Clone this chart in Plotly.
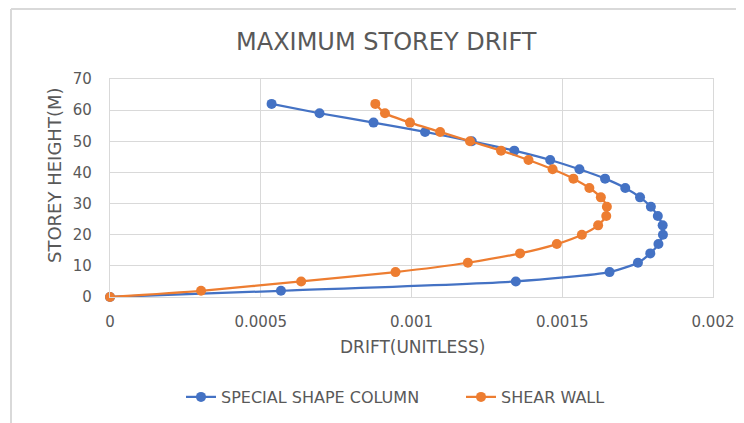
import plotly.graph_objects as go

# Storey heights (m)
heights = [0, 2, 5, 8, 11, 14, 17, 20, 23, 26, 29, 32, 35, 38, 41, 44, 47, 50, 53, 56, 59, 62]

# Drift values (unitless)
special_shape_column = [0, 0.000567, 0.001346, 0.001657, 0.001751, 0.001792, 0.001819, 0.001834,
                        0.001833, 0.001817, 0.001794, 0.001758, 0.001709, 0.001642, 0.001557,
                        0.00146, 0.001341, 0.0012, 0.001045, 0.000874, 0.000695, 0.000536]
shear_wall = [0, 0.000302, 0.000634, 0.000947, 0.001187, 0.00136, 0.001482, 0.001565,
              0.001619, 0.001646, 0.001648, 0.001628, 0.00159, 0.001537, 0.001468,
              0.001388, 0.001297, 0.001194, 0.001095, 0.000995, 0.000912, 0.00088]

x_ticks = [0, 0.0005, 0.001, 0.0015, 0.002]
x_tick_labels = ["0", "0.0005", "0.001", "0.0015", "0.002"]
y_ticks = [0, 10, 20, 30, 40, 50, 60, 70]

series_names = ["SPECIAL SHAPE COLUMN", "SHEAR WALL"]
colors = ["#4472C4", "#ED7D31"]

FONT = "DejaVu Sans"
GRAY = "#595959"
GRID = "#D9D9D9"

OFF = 8  # browser body margin
W, H = 744 - OFF, 423 - OFF
L, T = 110 - OFF, 79 - OFF
R = W - (713 - OFF)
B = H - (297 - OFF)
pw, ph = W - L - R, H - T - B


def px_x(x):
    return (x - OFF - L) / pw


def px_y(y):
    return (H - B - (y - OFF)) / ph


fig = go.Figure()
for i, (name, vals, col) in enumerate(zip(series_names, [special_shape_column, shear_wall], colors)):
    fig.add_trace(go.Scatter(
        x=vals, y=heights, name=name, mode="lines+markers",
        line=dict(color=col, width=2.25, shape="spline", smoothing=0.6),
        marker=dict(color=col, size=10),
        cliponaxis=False,
        legend="legend" if i == 0 else "legend2",
    ))

leg_common = dict(orientation="h", yanchor="middle", xanchor="left", itemwidth=30,
                  font=dict(size=16, color=GRAY, family=FONT), bgcolor="rgba(0,0,0,0)")

fig.update_layout(
    width=W, height=H,
    margin=dict(l=L, r=R, t=T, b=B, autoexpand=False),
    paper_bgcolor="white", plot_bgcolor="white",
    font=dict(family=FONT, color=GRAY, size=15),
    showlegend=True,
    legend=dict(x=px_x(181), y=px_y(397), **leg_common),
    legend2=dict(x=px_x(461), y=px_y(397), **leg_common),
    xaxis=dict(range=[0, 0.002], tickvals=x_ticks, ticktext=x_tick_labels,
               showgrid=True, gridcolor=GRID, gridwidth=1.3,
               zeroline=False, showline=True, linecolor=GRID, linewidth=1.3, mirror=True,
               ticks="", tickfont=dict(size=15, color=GRAY), ticklabelstandoff=11),
    yaxis=dict(range=[0, 70], tickvals=y_ticks,
               showgrid=True, gridcolor=GRID, gridwidth=1.3,
               zeroline=False, showline=True, linecolor=GRID, linewidth=1.3, mirror=True,
               ticks="", tickfont=dict(size=15, color=GRAY), ticklabelstandoff=14),
    annotations=[
        dict(text="MAXIMUM STOREY DRIFT", x=px_x(386), y=px_y(42), xref="paper", yref="paper",
             showarrow=False, font=dict(size=24, color=GRAY, family=FONT),
             xanchor="center", yanchor="middle"),
        dict(text="DRIFT(UNITLESS)", x=px_x(412), y=px_y(347), xref="paper", yref="paper",
             showarrow=False, font=dict(size=17, color=GRAY, family=FONT),
             xanchor="center", yanchor="middle"),
        dict(text="STOREY HEIGHT(M)", x=px_x(54), y=px_y(176), xref="paper", yref="paper",
             showarrow=False, font=dict(size=18, color=GRAY, family=FONT), textangle=-90,
             xanchor="center", yanchor="middle"),
    ],
    shapes=[
        dict(type="line", xref="paper", yref="paper", x0=px_x(11), x1=px_x(11), y0=px_y(9), y1=px_y(440),
             line=dict(color=GRID, width=2)),
        dict(type="line", xref="paper", yref="paper", x0=px_x(11), x1=px_x(760), y0=px_y(9), y1=px_y(9),
             line=dict(color=GRID, width=2)),
    ],
)

fig.write_html("out.html")
